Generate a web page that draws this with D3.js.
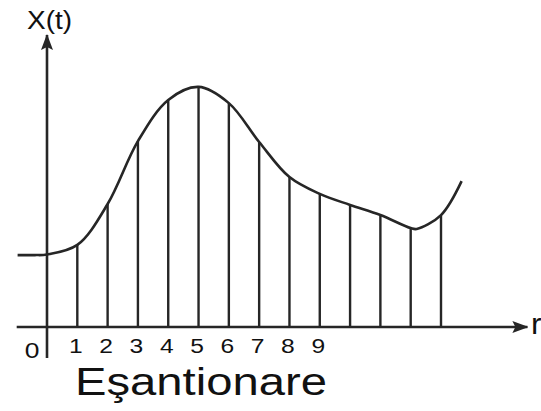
<!DOCTYPE html>
<html>
<head>
<meta charset="utf-8">
<script src="https://cdn.jsdelivr.net/npm/d3@7"></script>
<style>
  html, body { margin: 0; padding: 0; background: #fff; }
  svg { display: block; }
  text { font-family: "Liberation Sans", Arial, sans-serif; fill: #111; }
</style>
</head>
<body>
<script>
// Sample indices n and the sampled signal values x[n]
const sampleIndex = [1, 2, 3, 4, 5, 6, 7, 8, 9, 10, 11, 12, 13];
const sampleValue = [2.83, 4.24, 6.41, 7.83, 8.28, 7.72, 6.38, 5.17, 4.59, 4.21, 3.86, 3.41, 3.86];

// Continuous signal X(t): lead-in, the samples, the dip and the tail
const leadT = [-0.97, -0.4, 0];
const leadV = [2.48, 2.48, 2.5];
const tailT = [12.2, 13.68];
const tailV = [3.38, 5.03];

// Tick labels along the horizontal axis
const tickLabels = ["1", "2", "3", "4", "5", "6", "7", "8", "9"];

const W = 541, H = 411;
const svg = d3.select("body").append("svg").attr("width", W).attr("height", H);

const x = d3.scaleLinear().domain([0, 13]).range([47, 441]);
const y = d3.scaleLinear().domain([0, 10]).range([327, 37]);

const ink = "#262626";

// Arrow markers for both axes
const defs = svg.append("defs");
defs.append("marker").attr("id", "arrow")
  .attr("viewBox", "0 0 16 12").attr("refX", 15).attr("refY", 6)
  .attr("markerWidth", 16).attr("markerHeight", 12)
  .attr("markerUnits", "userSpaceOnUse").attr("orient", "auto")
  .append("path").attr("d", "M0,0 L16,6 L0,12 L3,6 Z").attr("fill", ink);

// Sample lines
svg.append("g").selectAll("line").data(sampleIndex).join("line")
  .attr("x1", d => x(d)).attr("x2", d => x(d))
  .attr("y1", y(0)).attr("y2", (d, i) => y(sampleValue[i]))
  .attr("stroke", ink).attr("stroke-width", 2.4);

// Signal curve
const pts = [];
leadT.forEach((t, i) => pts.push([t, leadV[i]]));
sampleIndex.forEach((t, i) => {
  pts.push([t, sampleValue[i]]);
  if (t === 12) pts.push([tailT[0], tailV[0]]);
});
pts.push([tailT[1], tailV[1]]);
pts.sort((a, b) => a[0] - b[0]);

svg.append("path")
  .attr("d", d3.line().x(d => x(d[0])).y(d => y(d[1])).curve(d3.curveCatmullRom.alpha(0.5))(pts))
  .attr("fill", "none").attr("stroke", ink).attr("stroke-width", 2.6);

// Axes
svg.append("line")
  .attr("x1", x(-1)).attr("x2", x(15.85)).attr("y1", y(0)).attr("y2", y(0))
  .attr("stroke", ink).attr("stroke-width", 2.6).attr("marker-end", "url(#arrow)");
svg.append("line")
  .attr("x1", x(0)).attr("x2", x(0)).attr("y1", 358).attr("y2", y(10.07))
  .attr("stroke", ink).attr("stroke-width", 2.6).attr("marker-end", "url(#arrow)");

// Tick labels
svg.append("g").selectAll("text").data(tickLabels).join("text")
  .attr("transform", d => `translate(${x(+d) - 1.5},353) scale(1.2,1)`)
  .attr("text-anchor", "middle").attr("font-size", 20.5)
  .text(d => d);

svg.append("text")
  .attr("transform", "translate(32,358) scale(1.2,1)")
  .attr("text-anchor", "middle").attr("font-size", 22).text("0");

// Axis titles
svg.append("text")
  .attr("transform", "translate(27,29) scale(1.12,1)")
  .attr("font-size", 25).text("X(t)");

svg.append("text")
  .attr("transform", "translate(531,334) scale(1.1,1)")
  .attr("font-size", 29).text("r");

// Caption
svg.append("text")
  .attr("x", 75).attr("y", 395)
  .attr("font-size", 38)
  .attr("textLength", 252).attr("lengthAdjust", "spacingAndGlyphs")
  .text("Eşantionare");
</script>
</body>
</html>
